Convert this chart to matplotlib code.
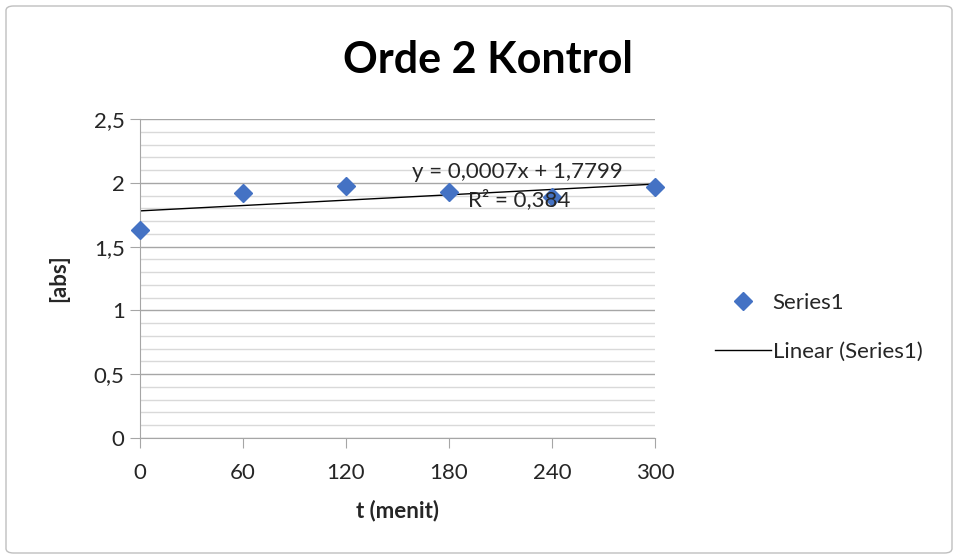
import numpy as np
import matplotlib.pyplot as plt
from matplotlib.patches import FancyBboxPatch
from matplotlib.ticker import MultipleLocator, FuncFormatter

# Data absorbansi kontrol orde 2
waktu = [0, 60, 120, 180, 240, 300]
absorbansi = [1.63, 1.92, 1.975, 1.93, 1.89, 1.967]

# Garis tren linear (dari persamaan Excel)
slope = 0.0007
intercept = 1.7799
r2 = 0.384

plt.rcParams['font.family'] = ['Lato', 'DejaVu Sans']

fig = plt.figure(figsize=(9.58, 5.59), dpi=100)
W, H = 958, 559

# bingkai chart
fig.patches.append(FancyBboxPatch((6 / W, 6 / H), 1 - 12 / W, 1 - 12 / H,
                                  boxstyle="round,pad=0,rounding_size=0.008",
                                  transform=fig.transFigure, fill=False,
                                  edgecolor='#bfbfbf', linewidth=1.0))

ax = fig.add_axes([140 / W, (H - 438) / H, (655 - 140) / W, (438 - 119) / H])

ax.set_xlim(0, 300)
ax.set_ylim(0, 2.5)

# grid mayor dan minor
ax.yaxis.set_major_locator(MultipleLocator(0.5))
ax.yaxis.set_minor_locator(MultipleLocator(0.1))
ax.xaxis.set_major_locator(MultipleLocator(60))
ax.grid(which='major', axis='y', color='#a6a6a6', linewidth=1.0)
ax.grid(which='minor', axis='y', color='#d9d9d9', linewidth=1.0)
ax.set_axisbelow(True)

ax.yaxis.set_major_formatter(FuncFormatter(lambda v, p: ('%g' % v).replace('.', ',')))

for s in ['top', 'right']:
    ax.spines[s].set_visible(False)
for s in ['left', 'bottom']:
    ax.spines[s].set_color('#a6a6a6')
ax.tick_params(which='major', length=7, color='#a6a6a6', labelsize=16,
               labelcolor='#262626')
ax.tick_params(axis='x', pad=11)
ax.tick_params(axis='y', pad=4)
ax.tick_params(which='minor', length=0)

ax.plot(waktu, absorbansi, linestyle='none', marker='D', markersize=9.5,
        color='#4472c4', label='Series1', clip_on=False, zorder=3)

xt = np.array([0, 300])
ax.plot(xt, slope * xt + intercept, color='black', linewidth=1.0,
        label='Linear (Series1)', zorder=2)

ax.text(220, 2.085, 'y = 0,0007x + 1,7799', ha='center', va='center',
        fontsize=16, color='#262626')
ax.text(221, 1.865, 'R² = 0,384', ha='center', va='center',
        fontsize=16, color='#262626')

ax.set_xlabel('t (menit)', fontsize=16, fontweight='bold', color='#262626', labelpad=12)
ax.set_ylabel('[abs]', fontsize=16, fontweight='bold', color='#262626', labelpad=10)
ax.yaxis.set_label_coords(-71 / 515, 0.5)

fig.text(488 / W, 1 - 60 / H, 'Orde 2 Kontrol', ha='center', va='center',
         fontsize=31, fontweight='bold', color='black')

fig.legend(loc='center left', bbox_to_anchor=(695 / W, 1 - 327 / H), frameon=False,
           fontsize=16, handlelength=2.5, labelspacing=1.3, handletextpad=0.1,
           labelcolor='#262626')

fig.savefig('out.png', dpi=100)
